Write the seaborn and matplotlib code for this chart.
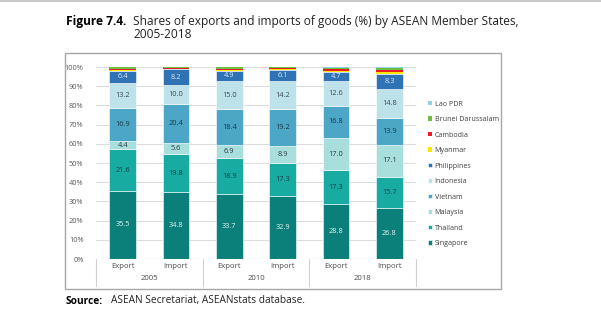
import matplotlib
matplotlib.use("Agg")
import matplotlib.pyplot as plt
import matplotlib.transforms as mtransforms
from matplotlib.patches import Rectangle
from matplotlib.lines import Line2D
import numpy as np
import pandas as pd
import seaborn as sns

# ---------------- data ----------------
bar_labels = ["Export", "Import", "Export", "Import", "Export", "Import"]
years = ["2005", "2010", "2018"]
countries = ["Singapore", "Thailand", "Malaysia", "Vietnam", "Indonesia",
             "Philippines", "Myanmar", "Cambodia", "Brunei Darussalam", "Lao PDR"]
singapore = [35.5, 34.8, 33.7, 32.9, 28.8, 26.8]
thailand = [21.6, 19.8, 18.9, 17.3, 17.3, 15.7]
malaysia = [4.4, 5.6, 6.9, 8.9, 17.0, 17.1]
vietnam = [16.9, 20.4, 18.4, 19.2, 16.8, 13.9]
indonesia = [13.2, 10.0, 15.0, 14.2, 12.6, 14.8]
philippines = [6.4, 8.2, 4.9, 6.1, 4.7, 8.3]
myanmar = [0.5, 0.3, 0.8, 0.4, 0.8, 1.0]
cambodia = [0.6, 0.3, 0.5, 0.3, 0.9, 1.0]
brunei = [0.7, 0.4, 0.8, 0.5, 0.7, 0.9]
lao = [0.2, 0.2, 0.1, 0.2, 0.4, 0.5]
series = [singapore, thailand, malaysia, vietnam, indonesia,
          philippines, myanmar, cambodia, brunei, lao]
labelled = ["Singapore", "Thailand", "Malaysia", "Vietnam", "Indonesia", "Philippines"]
colors = ["#0b7f79", "#17aba2", "#a8dedc", "#4ba7c5", "#bde2ea",
          "#2f73b5", "#ffe500", "#ec1c24", "#6dbd45", "#8fd2e4"]
label_colors = {"Singapore": "#e8f4f3", "Thailand": "#1d3a45", "Malaysia": "#2b3b44",
                "Vietnam": "#1d3a45", "Indonesia": "#3b4a52", "Philippines": "#dbe8f5"}
yticks = [0, 10, 20, 30, 40, 50, 60, 70, 80, 90, 100]

# ---------------- figure ----------------
sns.set_theme(style="white")
plt.rcParams["font.family"] = ["Open Sans", "DejaVu Sans"]

W, H = 601, 328
fig = plt.figure(figsize=(W / 100, H / 100), dpi=100)
ax = fig.add_axes([96 / W, 1 - 259 / H, (416 - 96) / W, (259 - 67) / H])

slots = [f"{b} {i}" for i, b in enumerate(bar_labels)]
bottom = np.zeros(len(slots))
for name, vals, col in zip(countries, series, colors):
    df = pd.DataFrame({"slot": slots, "value": vals})
    lw = 0.4 if name in labelled else 0
    sns.barplot(data=df, x="slot", y="value", order=slots, color=col,
                bottom=bottom.copy(), width=0.5, ax=ax, edgecolor="white",
                linewidth=lw, saturation=1, label=name, errorbar=None)
    cont = ax.containers[-1]
    if name in labelled:
        ax.bar_label(cont, labels=[f"{v:.1f}" for v in vals], label_type="center",
                     fontsize=5.3, color=label_colors[name])
    bottom = bottom + np.array(vals)

if ax.get_legend() is not None:
    ax.get_legend().remove()

ax.set_ylim(0, 100)
ax.set_xlim(-0.5, 5.5)
ax.set_yticks(yticks)
ax.set_yticklabels([f"{t}%" for t in yticks])
ax.yaxis.grid(True, color="#dcdcdc", linewidth=0.8)
ax.set_axisbelow(True)
for s in ax.spines.values():
    s.set_visible(False)
ax.tick_params(axis="y", length=0, pad=9, labelsize=5.3, labelcolor="#595959")
ax.tick_params(axis="x", length=0, pad=3, labelsize=5.6, labelcolor="#4d4d4d")
ax.set_xticks(range(len(bar_labels)))
ax.set_xticklabels(bar_labels)
ax.set_xlabel("")
ax.set_ylabel("")

# group axis: year labels and separators
trans = mtransforms.blended_transform_factory(ax.transData, fig.transFigure)
for k, yr in enumerate(years):
    ax.text(2 * k + 0.5, 1 - 279 / H, yr, transform=trans, ha="center", va="center",
            fontsize=5.6, color="#4d4d4d")
for xs in [-0.5, 1.5, 3.5, 5.5]:
    ax.add_line(Line2D([xs, xs], [1 - 259 / H, 1 - 286 / H], transform=trans,
                       color="#d0d0d0", linewidth=0.8, clip_on=False))
ax.axhline(0, color="#d0d0d0", linewidth=0.8)

# legend (reverse order)
handles, labs = ax.get_legend_handles_labels()
leg = fig.legend(handles[::-1], labs[::-1], loc="upper left",
                 bbox_to_anchor=(424 / W, 1 - 97 / H), frameon=False,
                 fontsize=5.1, handlelength=0.65, handleheight=0.65,
                 handletextpad=0.35, labelspacing=1.2, borderpad=0)
for t in leg.get_texts():
    t.set_color("#404040")

# chart frame box
fig.patches.append(Rectangle((65 / W, 1 - 289 / H), (501 - 65) / W, (289 - 53) / H,
                             transform=fig.transFigure, fill=False,
                             edgecolor="#a6a6a6", linewidth=1.0))
# top rule
fig.add_artist(Line2D([0, 1], [1 - 1 / H, 1 - 1 / H], transform=fig.transFigure,
                      color="#bfbfbf", linewidth=1.2))

# title
fig.text(66 / W, 1 - 21 / H, "Figure 7.4.", fontsize=8.6, fontweight="bold",
         color="#000000", ha="left", va="center")
fig.text(133 / W, 1 - 21 / H,
         "Shares of exports and imports of goods (%) by ASEAN Member States,",
         fontsize=8.6, color="#222222", ha="left", va="center")
fig.text(133 / W, 1 - 34 / H, "2005-2018", fontsize=8.6, color="#222222",
         ha="left", va="center")

# source
fig.text(66 / W, 1 - 301 / H, "Source:", fontsize=7.3, fontweight="bold",
         color="#000000", ha="left", va="center")
fig.text(111 / W, 1 - 301 / H, "ASEAN Secretariat, ASEANstats database.",
         fontsize=7.3, color="#222222", ha="left", va="center")

fig.savefig("out.png", dpi=100)
